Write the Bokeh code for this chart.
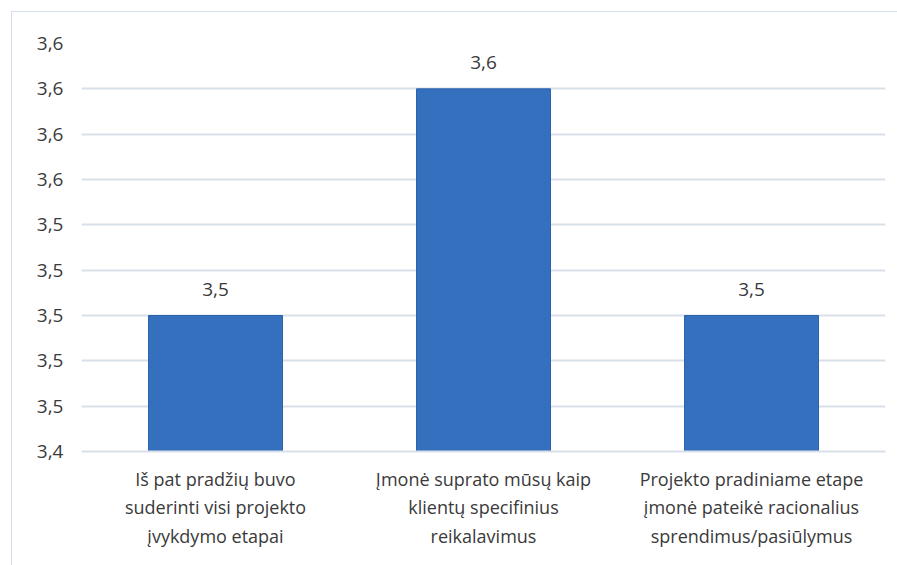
from bokeh.plotting import figure
from bokeh.models import ColumnDataSource, Range1d, LabelSet, CustomJSTickFormatter, FixedTicker
from bokeh.core.properties import value
from bokeh.embed import file_html
from bokeh.resources import INLINE

categories = [
    "Iš pat pradžių buvo\nsuderinti visi projekto\nįvykdymo etapai",
    "Įmonė suprato mūsų kaip\nklientų specifinius\nreikalavimus",
    "Projekto pradiniame etape\nįmonė pateikė racionalius\nsprendimus/pasiūlymus",
]
values = [3.50, 3.60, 3.50]
value_labels = ["3,5", "3,6", "3,5"]
y_ticks = [3.44, 3.46, 3.48, 3.50, 3.52, 3.54, 3.56, 3.58, 3.60, 3.62]

FONT = "Open Sans"
FS = "19px"
TEXT_COLOR = "#3a3a3a"
GRID = "#d9dfe9"

src = ColumnDataSource(dict(cat=categories, val=values, lab=value_labels))

p = figure(
    x_range=categories,
    y_range=Range1d(3.44, 3.62),
    width=886, height=554,
    output_backend="svg", toolbar_location=None,
    min_border_left=69, min_border_right=13, min_border_top=31, min_border_bottom=115,
)
p.styles = {"margin-left": "11px", "margin-top": "11px",
            "border-left": "1px solid #d5deec", "border-top": "1px solid #d5deec"}
p.outline_line_color = None
p.background_fill_color = "white"
p.border_fill_color = "white"

p.vbar(x="cat", top="val", bottom=3.44, width=0.5, source=src,
       fill_color="#3470be", line_color="#2d63ab", line_width=1)

labels = LabelSet(x="cat", y="val", text="lab", source=src, y_offset=20,
                  text_align="center", text_baseline="bottom",
                  text_font=value(FONT), text_font_size=FS, text_color=TEXT_COLOR)
p.add_layout(labels)

p.yaxis.ticker = FixedTicker(ticks=y_ticks)
p.yaxis.formatter = CustomJSTickFormatter(code="return tick.toFixed(1).replace('.', ',');")
p.yaxis.axis_line_color = None
p.yaxis.major_tick_line_color = None
p.yaxis.minor_tick_line_color = None
p.yaxis.major_label_text_font = FONT
p.yaxis.major_label_text_font_size = FS
p.yaxis.major_label_text_color = TEXT_COLOR
p.yaxis.major_label_standoff = 12

p.xaxis.axis_line_color = GRID
p.xaxis.axis_line_width = 2
p.xaxis.major_tick_line_color = None
p.xaxis.minor_tick_line_color = None
p.xaxis.major_label_text_font = FONT
p.xaxis.major_label_text_font_size = "18px"
p.xaxis.major_label_text_color = TEXT_COLOR
p.xaxis.major_label_standoff = 9

p.xgrid.grid_line_color = None
p.ygrid.grid_line_color = GRID
p.ygrid.grid_line_width = 2

open("out.html", "w").write(file_html(p, INLINE))
